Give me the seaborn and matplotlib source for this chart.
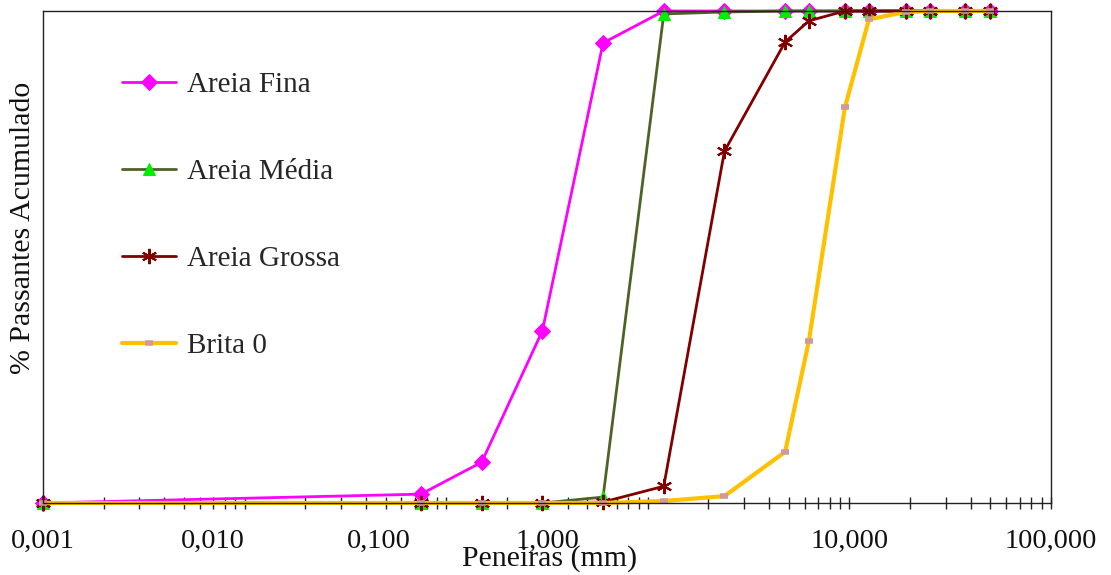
import numpy as np
import pandas as pd
import matplotlib
import seaborn as sns
import matplotlib.pyplot as plt
from matplotlib.ticker import LogLocator, NullFormatter

matplotlib.use('Agg')

# Sieve openings (mm) and cumulative passing (%)
peneiras = [0.001, 0.075, 0.15, 0.3, 0.6, 1.2, 2.4, 4.8, 6.3, 9.5, 12.5, 19, 25, 37.5, 50]
areia_fina = [0, 1.8, 8.3, 35, 93.5, 100, 100, 100, 100, 100, 100, 100, 100, 100, 100]
areia_media = [0, 0, 0, 0, 1.2, 99.4, 99.8, 100, 100, 100, 100, 100, 100, 100, 100]
areia_grossa = [0, 0, 0, 0, 0.2, 3.4, 71.5, 93.7, 98, 100, 100, 100, 100, 100, 100]
brita_0 = [0, 0, 0, 0, 0, 0.4, 1.4, 10.4, 33, 80.4, 98.3, 99.8, 100, 100, 100]

tick_labels = ["0,001", "0,010", "0,100", "1,000", "10,000", "100,000"]
tick_label_pos = [0.0, 0.168, 0.333, 0.5, 0.8, 1.0]  # axes fraction, as in the original

series = {
    "Areia Fina": areia_fina,
    "Areia Média": areia_media,
    "Areia Grossa": areia_grossa,
    "Brita 0": brita_0,
}

styles = {
    "Areia Fina": dict(color="#FF00FF", marker="D", markersize=8, markerfacecolor="#FF00FF",
                       markeredgecolor="#FF00FF", linewidth=2),
    "Areia Média": dict(color="#4F6228", marker="^", markersize=9, markerfacecolor="#00EE00",
                        markeredgecolor="#00EE00", linewidth=2),
    "Areia Grossa": dict(color="#800000", marker=(6, 2, 0), markersize=11, markeredgewidth=1.5,
                         markeredgecolor="#800000", linewidth=2),
    "Brita 0": dict(color="#FFC000", marker="_", markersize=6, markeredgewidth=4,
                    markeredgecolor="#D09A9A", linewidth=3),
}

sns.set_theme(style="white")
plt.rcParams['font.family'] = ['Liberation Serif', 'DejaVu Serif']

fig = plt.figure(figsize=(11.11, 5.75), dpi=100)
ax = fig.add_axes([43 / 1111, 72 / 575, 1008 / 1111, 492 / 575])
ax.set_xscale('log')

for name, values in series.items():
    df = pd.DataFrame({"x": peneiras, "y": values})
    sns.lineplot(data=df, x="x", y="y", ax=ax, label=name, sort=False,
                 clip_on=False, **styles[name])

ax.set_xlim(0.001, 100)
ax.set_ylim(0, 100)

# ticks crossing the x axis, no y ticks
ax.xaxis.set_major_locator(LogLocator(base=10, numticks=10))
ax.xaxis.set_minor_locator(LogLocator(base=10, subs=np.arange(2, 10), numticks=100))
ax.xaxis.set_major_formatter(NullFormatter())
ax.xaxis.set_minor_formatter(NullFormatter())
ax.tick_params(axis='x', which='both', direction='inout', length=9, width=1,
               color='#222222', bottom=True)
ax.set_yticks([])

for lbl, pos in zip(tick_labels, tick_label_pos):
    ax.text(pos, -0.078, lbl, transform=ax.transAxes, ha='center', va='center',
            fontsize=20.5, color='#111111')

for side in ['left', 'right', 'top', 'bottom']:
    ax.spines[side].set_visible(True)
    ax.spines[side].set_color('#222222')
    ax.spines[side].set_linewidth(1)

ax.set_xlabel("Peneiras (mm)", fontsize=21.5, color='#111111')
ax.set_ylabel("% Passantes Acumulado", fontsize=21.5, color='#111111')
ax.xaxis.set_label_coords(0.503, -0.085)
ax.yaxis.set_label_coords(-0.007, 0.559)

ax.legend(loc='upper left', bbox_to_anchor=(0.078, 0.877), frameon=False,
          fontsize=21, labelspacing=2.08, handlelength=1.85, handletextpad=0.4,
          borderaxespad=0, borderpad=0)

fig.savefig("out.png", dpi=100, facecolor='white')
